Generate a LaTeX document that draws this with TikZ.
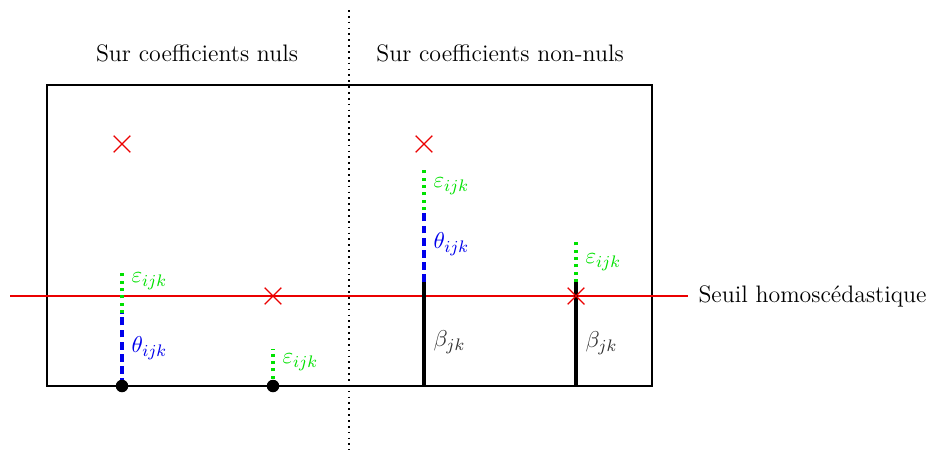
\documentclass[tikz,border=0pt]{standalone}
\usepackage{amsmath}
\usepackage{amssymb}
\usetikzlibrary{positioning,calc,shapes.misc}
\definecolor{seuilcolor}{RGB}{235, 0, 0}
\definecolor{bruitcolor}{RGB}{0, 225, 0}
\definecolor{thetacolor}{RGB}{0, 0, 235}
\tikzset{
every node/.style={
  font=\fontsize{11.4}{13}\selectfont
},
titlelabel/.style={
  align=center
},
croix/.style={
  draw=seuilcolor,
  cross out,
  minimum size=2.6mm,
  inner sep=0pt,
  line width=0.6pt
},
pointnul/.style={
  circle,
  fill=black,
  minimum size=2.1mm,
  inner sep=0pt
},
bruitline/.style={
  draw=bruitcolor,
  dotted,
  line width=1.5pt
},
thetaline/.style={
  draw=thetacolor,
  dash pattern=on 3.8pt off 2pt,
  line width=1.5pt
},
betaline/.style={
  draw=black,
  line width=1.5pt
},
bruitlabel/.style={
  anchor=west,
  text=bruitcolor,
  inner sep=1pt
},
thetalabel/.style={
  anchor=west,
  text=thetacolor,
  inner sep=1pt
},
betalabel/.style={
  anchor=west,
  text=black!80,
  inner sep=1pt
}
}
\begin{document}
\begin{tikzpicture}[x=0.0168cm, y=-0.0168cm]
  \useasboundingbox (0,0) rectangle (926,455);

  % Cadre et separation
  \draw[line width=0.8pt] (47,85) rectangle (652,386);
  \draw[dotted, line width=0.8pt] (349,10) -- (349,450);

  % Titres
  \node[titlelabel] (tnuls) at (197,53) {Sur coefficients nuls};
  \node[titlelabel] (tnonnuls) at (500,53) {Sur coefficients non-nuls};

  % Seuil
  \coordinate (sA) at (10,296);
  \coordinate (sB) at (688,296);
  \draw[seuilcolor, line width=1.4pt] (sA) -- (sB);
  \node[anchor=west, inner sep=1pt] (seuil) at (696,296) {Seuil homosc\'edastique};

  % Coefficient nul 1
  \coordinate (p1b) at (122,386);
  \coordinate (p1t) at (122,313);
  \coordinate (p1e) at (122,272);
  \draw[thetaline] (p1b) -- (p1t);
  \draw[bruitline] (p1t) -- (p1e);
  \node[pointnul] (p1) at (p1b) {};
  \node[croix] (c1) at (122,144) {};
  \node[bruitlabel] (e1) at (129,281) {$\varepsilon_{ijk}$};
  \node[thetalabel] (th1) at (129,348) {$\theta_{ijk}$};

  % Coefficient nul 2
  \coordinate (p2b) at (273,386);
  \coordinate (p2e) at (273,349);
  \draw[bruitline] (p2b) -- (p2e);
  \node[pointnul] (p2) at (p2b) {};
  \node[croix] (c2) at (273,296) {};
  \node[bruitlabel] (e2) at (280,362) {$\varepsilon_{ijk}$};

  % Coefficient non-nul 1
  \coordinate (b3) at (424,386);
  \coordinate (b3t) at (424,282);
  \coordinate (b3e) at (424,210);
  \coordinate (b3s) at (424,167);
  \draw[betaline] (b3) -- (b3t);
  \draw[thetaline] (b3t) -- (b3e);
  \draw[bruitline] (b3e) -- (b3s);
  \node[croix] (c3) at (424,144) {};
  \node[bruitlabel] (e3) at (431,186) {$\varepsilon_{ijk}$};
  \node[thetalabel] (th3) at (431,244) {$\theta_{ijk}$};
  \node[betalabel] (be3) at (431,342) {$\beta_{jk}$};

  % Coefficient non-nul 2
  \coordinate (b4) at (576,386);
  \coordinate (b4t) at (576,282);
  \coordinate (b4e) at (576,241);
  \draw[betaline] (b4) -- (b4t);
  \draw[bruitline] (b4t) -- (b4e);
  \node[croix] (c4) at (576,296) {};
  \node[bruitlabel] (e4) at (583,262) {$\varepsilon_{ijk}$};
  \node[betalabel] (be4) at (583,343) {$\beta_{jk}$};
\end{tikzpicture}
\end{document}
